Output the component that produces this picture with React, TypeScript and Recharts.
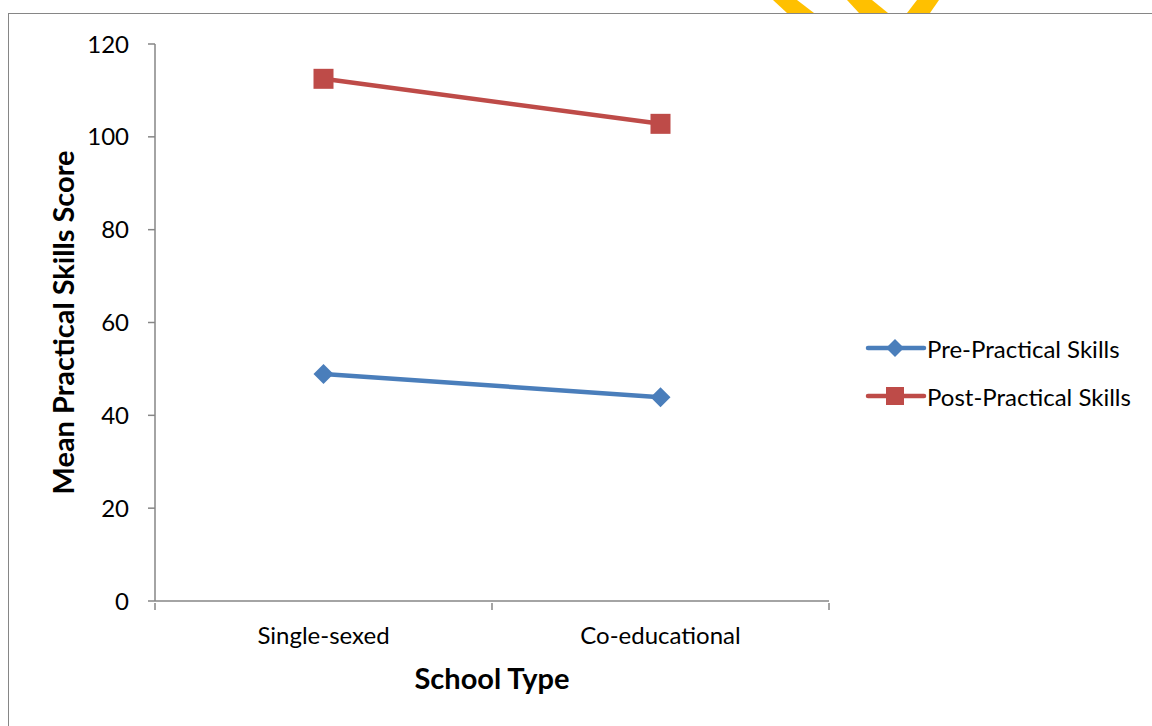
import React from 'react';
import { LineChart, Line, XAxis, YAxis, Legend } from 'recharts';

// School types on the category axis
const schoolTypes = ['Single-sexed', 'Co-educational'];
// Mean practical skills scores per school type
const prePractical = [48.9, 43.9];
const postPractical = [112.5, 102.8];
// Value axis ticks
const yTicks = [0, 20, 40, 60, 80, 100, 120];

// Each category occupies one unit on the x axis; points sit at its centre
const data = schoolTypes.map((school, i) => ({
  school,
  pos: i + 0.5,
  pre: prePractical[i],
  post: postPractical[i],
}));

// Boundary ticks (integers) carry tick marks, centre ticks carry the labels
const xTicks: number[] = [];
schoolTypes.forEach((_, i) => xTicks.push(i, i + 0.5));
xTicks.push(schoolTypes.length);

const seriesOrder = ['pre', 'post'];

const FONT = 'Lato, "Open Sans", sans-serif';
const BLUE = '#4A7EBB';
const RED = '#BE4B48';
const AXIS = '#868686';

const Diamond = (props: any) => {
  const { cx, cy } = props;
  if (cx == null || cy == null) return null;
  const r = 10;
  return (
    <polygon
      points={`${cx},${cy - r} ${cx + r},${cy} ${cx},${cy + r} ${cx - r},${cy}`}
      fill={BLUE}
    />
  );
};

const Square = (props: any) => {
  const { cx, cy } = props;
  if (cx == null || cy == null) return null;
  const h = 10;
  return <rect x={cx - h} y={cy - h} width={2 * h} height={2 * h} fill={RED} />;
};

const CategoryTick = (props: any) => {
  const { x, y, payload } = props;
  const v = payload.value as number;
  if (Number.isInteger(v)) {
    return <line x1={x} y1={y} x2={x} y2={y + 7} stroke={AXIS} strokeWidth={1.5} />;
  }
  const label = schoolTypes[Math.floor(v)];
  return (
    <text
      x={x}
      y={y + 24}
      dy="0.71em"
      textAnchor="middle"
      fontSize={24}
      fontFamily={FONT}
      fill="#000"
    >
      {label}
    </text>
  );
};

const LegendContent = (props: any) => {
  const { payload = [] } = props;
  const items = [...payload].sort(
    (a: any, b: any) => seriesOrder.indexOf(a.dataKey) - seriesOrder.indexOf(b.dataKey)
  );
  return (
    <div style={{ fontFamily: FONT, fontSize: 24, color: '#000' }}>
      {items.map((entry: any) => {
        const isPre = entry.dataKey === 'pre';
        return (
          <div
            key={entry.value}
            style={{ display: 'flex', alignItems: 'center', height: 48 }}
          >
            <svg width={62} height={24}>
              <line
                x1={3}
                y1={12}
                x2={59}
                y2={12}
                stroke={entry.color}
                strokeWidth={4.5}
                strokeLinecap="round"
              />
              {isPre ? (
                <polygon points="30,3 39,12 30,21 21,12" fill={BLUE} />
              ) : (
                <rect x={21} y={3} width={18} height={18} fill={RED} />
              )}
            </svg>
            <span style={{ whiteSpace: 'nowrap' }}>{entry.value}</span>
          </div>
        );
      })}
    </div>
  );
};

export default function App() {
  return (
    <div
      style={{
        position: 'absolute',
        left: 0,
        top: 0,
        width: 1152,
        height: 726,
        overflow: 'hidden',
        background: '#fff',
      }}
    >
      {/* chart frame */}
      <div
        style={{
          position: 'absolute',
          left: 8,
          top: 13,
          width: 1152 - 8,
          height: 726 - 13,
          borderTop: `1.5px solid ${AXIS}`,
          borderLeft: `1.5px solid ${AXIS}`,
          boxSizing: 'border-box',
        }}
      />
      {/* gold stripes above the frame */}
      <svg
        width={1152}
        height={14}
        style={{ position: 'absolute', left: 0, top: 0 }}
      >
        <polygon points="773,0 797,0 814,13 787,13" fill="#FFC000" />
        <polygon points="847,0 872,0 888,13 859,13" fill="#FFC000" />
        <polygon points="917,0 939,0 930,13 907,13" fill="#FFC000" />
      </svg>
      <div style={{ position: 'absolute', left: 0, top: 0 }}>
        <LineChart
          width={1152}
          height={726}
          data={data}
          margin={{ top: 44, right: 323, left: 0, bottom: 0 }}
        >
          <XAxis
            dataKey="pos"
            type="number"
            domain={[0, schoolTypes.length]}
            ticks={xTicks}
            interval={0}
            allowDataOverflow
            height={125}
            axisLine={{ stroke: AXIS, strokeWidth: 1.5 }}
            tickLine={false}
            tickSize={0}
            tick={<CategoryTick />}
            label={{
              value: 'School Type',
              position: 'insideBottom',
              offset: 37,
              style: {
                fontSize: 29,
                fontWeight: 700,
                fill: '#000',
                fontFamily: FONT,
              },
            }}
          />
          <YAxis
            domain={[0, 120]}
            ticks={yTicks}
            width={155}
            tickSize={7}
            tickMargin={19}
            axisLine={{ stroke: AXIS, strokeWidth: 1.5 }}
            tickLine={{ stroke: AXIS, strokeWidth: 1.5 }}
            tick={{ fontSize: 24, fill: '#000', fontFamily: FONT }}
            label={{
              value: 'Mean Practical Skills Score',
              angle: -90,
              position: 'center',
              dx: -14,
              style: {
                fontSize: 29,
                fontWeight: 700,
                fill: '#000',
                fontFamily: FONT,
                textAnchor: 'middle',
              },
            }}
          />
          <Legend
            layout="vertical"
            align="center"
            verticalAlign="middle"
            content={<LegendContent />}
            wrapperStyle={{ left: 865, top: 324, width: 'auto' }}
          />
          <Line
            dataKey="pre"
            name="Pre-Practical Skills"
            stroke={BLUE}
            strokeWidth={4.5}
            dot={<Diamond />}
            isAnimationActive={false}
          />
          <Line
            dataKey="post"
            name="Post-Practical Skills"
            stroke={RED}
            strokeWidth={4.5}
            dot={<Square />}
            isAnimationActive={false}
          />
        </LineChart>
      </div>
    </div>
  );
}
